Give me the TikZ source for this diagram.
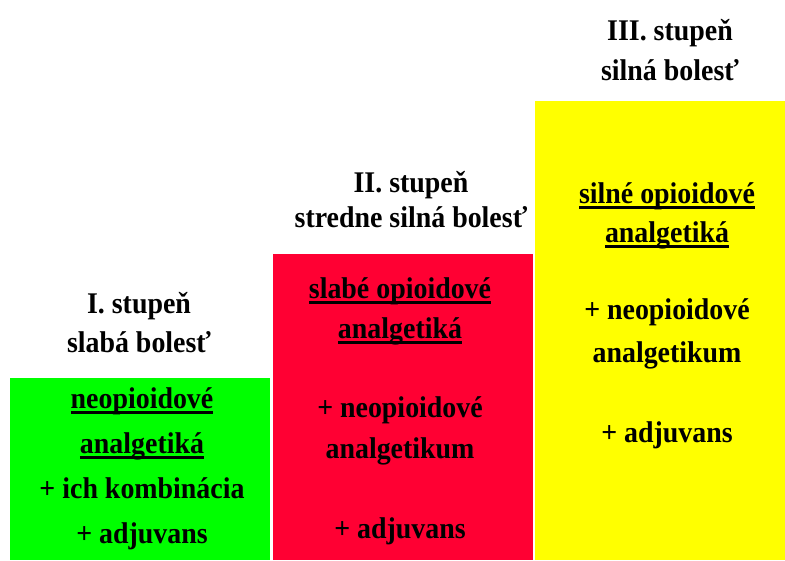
\documentclass[tikz,border=0pt]{standalone}
\usepackage{fontspec}
\setmainfont{Liberation Serif}[FakeStretch=0.93]
\usetikzlibrary{positioning}
\newsavebox{\ulbox}
\newcommand{\uln}[1]{\sbox{\ulbox}{#1}\rlap{\rule[-5.5pt]{\wd\ulbox}{2.5pt}}\usebox{\ulbox}}
\definecolor{stepG}{RGB}{0,255,0}
\definecolor{stepR}{RGB}{255,0,51}
\definecolor{stepY}{RGB}{255,255,0}
\tikzset{
  stepbox/.style={inner sep=0pt,outer sep=0pt,anchor=north west},
  txt/.style={anchor=base,inner sep=0pt,font=\fontsize{30}{30}\selectfont\bfseries},
}

\begin{document}
\begin{tikzpicture}[x=1pt,y=-1pt]
\useasboundingbox (0,0) rectangle (785,560);
% the three steps
\node[stepbox,fill=stepG,minimum width=260,minimum height=182] (step1) at (10,378) {};
\node[stepbox,fill=stepR,minimum width=260,minimum height=306] (step2) at (273,254) {};
\node[stepbox,fill=stepY,minimum width=250,minimum height=459] (step3) at (535,101) {};
% headings
\foreach \y/\t [count=\i] in {313/I. stupeň,352/slabá bolesť}
  \node[txt] (head1-\i) at (139,\y) {\t};
\foreach \y/\t [count=\i] in {192/II. stupeň,227/stredne silná bolesť}
  \node[txt] (head2-\i) at (411,\y) {\t};
\foreach \y/\t [count=\i] in {40/III. stupeň,80/silná bolesť}
  \node[txt] (head3-\i) at (670,\y) {\t};
% contents
\foreach \y/\t [count=\i] in {408/\uln{neopioidové},453/\uln{analgetiká},498/+ ich kombinácia,543/+ adjuvans}
  \node[txt] (text1-\i) at (142,\y) {\t};
\foreach \y/\t [count=\i] in {298/\uln{slabé opioidové},338/\uln{analgetiká},417/+ neopioidové,458/analgetikum,538/+ adjuvans}
  \node[txt] (text2-\i) at (400,\y) {\t};
\foreach \y/\t [count=\i] in {203/\uln{silné opioidové},242/\uln{analgetiká},319/+ neopioidové,362/analgetikum,442/+ adjuvans}
  \node[txt] (text3-\i) at (667,\y) {\t};
\end{tikzpicture}
\end{document}
